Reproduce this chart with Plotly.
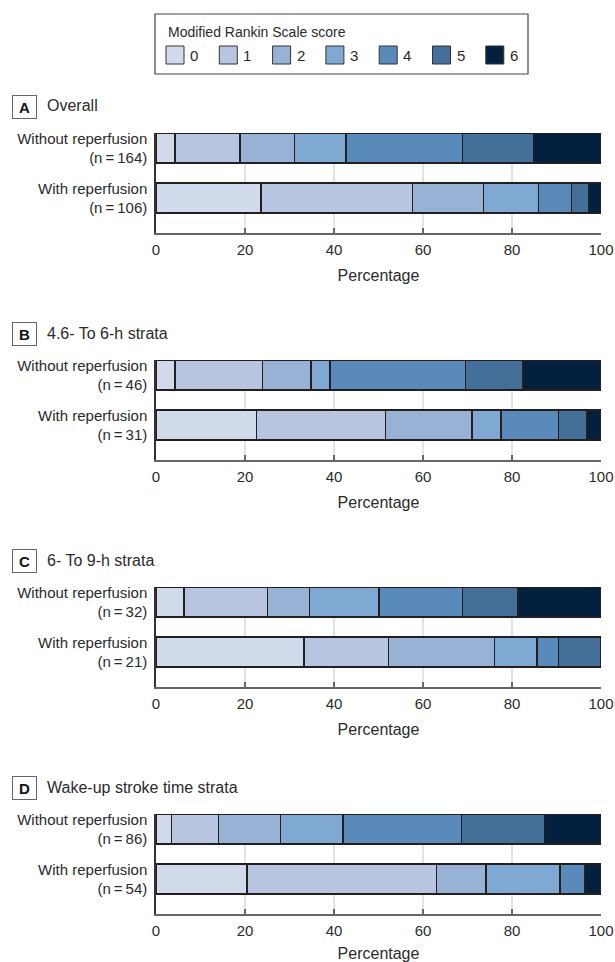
import plotly.graph_objects as go

# ---------------- data ----------------
scores = ["0", "1", "2", "3", "4", "5", "6"]
colors = ["#d1daea", "#b7c5e0", "#98b2d6", "#7fa8d3", "#5a8aba", "#436f99", "#03203f"]

panel_letters = ["A", "B", "C", "D"]
panel_titles = ["Overall", "4.6- To 6-h strata", "6- To 9-h strata", "Wake-up stroke time strata"]

without_labels = ["Without reperfusion<br>(n\u2009=\u2009164)", "Without reperfusion<br>(n\u2009=\u200946)",
                  "Without reperfusion<br>(n\u2009=\u200932)", "Without reperfusion<br>(n\u2009=\u200986)"]
with_labels = ["With reperfusion<br>(n\u2009=\u2009106)", "With reperfusion<br>(n\u2009=\u200931)",
               "With reperfusion<br>(n\u2009=\u200921)", "With reperfusion<br>(n\u2009=\u200954)"]

# percentages per mRS score 0..6
overall_without = [4.3, 14.6, 12.2, 11.6, 26.2, 15.9, 15.2]
overall_with = [23.6, 34.0, 16.0, 12.3, 7.5, 3.8, 2.8]
s46_without = [4.3, 19.6, 10.9, 4.3, 30.4, 13.0, 17.5]
s46_with = [22.6, 29.0, 19.4, 6.5, 12.9, 6.5, 3.1]
s69_without = [6.3, 18.8, 9.4, 15.6, 18.8, 12.5, 18.6]
s69_with = [33.3, 19.0, 23.8, 9.5, 4.8, 9.6, 0.0]
wake_without = [3.5, 10.5, 14.0, 14.0, 26.7, 18.6, 12.7]
wake_with = [20.4, 42.6, 11.1, 16.7, 5.6, 0.0, 3.6]

panels_without = [overall_without, s46_without, s69_without, wake_without]
panels_with = [overall_with, s46_with, s69_with, wake_with]

x_ticks = [0, 20, 40, 60, 80, 100]

# ---------------- figure ----------------
W, H = 615, 962
FONT = "Liberation Sans, Arial, sans-serif"
TXT = "#2b2b2b"

def px_x(p):
    return p / W

def px_y(p):
    return 1 - p / H

fig = go.Figure()
layout = {}
annotations = []
shapes = []

PANEL_STEP = 227
for i in range(4):
    o = PANEL_STEP * i
    ax = "" if i == 0 else str(i + 1)
    cats = [without_labels[i], with_labels[i]]
    for k, sc in enumerate(scores):
        fig.add_trace(go.Bar(
            y=cats,
            x=[panels_without[i][k], panels_with[i][k]],
            orientation="h",
            name=sc,
            marker=dict(color=colors[k], line=dict(color="#231f20", width=1.5)),
            width=0.6,
            showlegend=False,
            xaxis="x" + ax,
            yaxis="y" + ax,
            hovertemplate="%{y}<br>mRS " + sc + ": %{x:.1f}%<extra></extra>",
        ))
    layout["xaxis" + ax] = dict(
        domain=[px_x(156), px_x(601)],
        anchor="y" + ax,
        range=[0, 100],
        tickvals=x_ticks,
        ticks="inside",
        ticklen=5,
        tickwidth=1.5,
        tickcolor="#666",
        showline=True,
        linecolor="#666",
        linewidth=1.5,
        showgrid=True,
        gridcolor="#e3e3e3",
        gridwidth=1.5,
        zeroline=False,
        automargin=False,
        tickfont=dict(family=FONT, size=15, color=TXT),
        ticklabelstandoff=2,
        title=dict(text="Percentage", font=dict(family=FONT, size=16, color=TXT), standoff=13),
        fixedrange=True,
    )
    layout["yaxis" + ax] = dict(
        domain=[px_y(233 + o), px_y(133 + o)],
        anchor="x" + ax,
        type="category",
        categoryorder="array",
        categoryarray=cats,
        range=[1.7, -0.3],
        showline=True,
        linecolor="#333",
        linewidth=1.5,
        ticks="",
        showgrid=False,
        automargin=False,
        tickfont=dict(family=FONT, size=15, color=TXT),
        ticklabelstandoff=4,
        fixedrange=True,
    )
    # panel letter box and title
    annotations.append(dict(
        x=px_x(24), y=px_y(106.5 + o), xref="paper", yref="paper",
        text="<b>" + panel_letters[i] + "</b>", showarrow=False,
        xanchor="center", yanchor="middle",
        width=23, height=22, borderpad=0,
        bordercolor="#666", borderwidth=1,
        font=dict(family=FONT, size=15, color="#111"),
    ))
    annotations.append(dict(
        x=px_x(45), y=px_y(106 + o), xref="paper", yref="paper",
        text=panel_titles[i], showarrow=False,
        xanchor="left", yanchor="middle",
        font=dict(family=FONT, size=16, color=TXT),
    ))

# manual legend
shapes.append(dict(type="rect", xref="paper", yref="paper",
                   x0=px_x(155), x1=px_x(528), y0=px_y(74), y1=px_y(14),
                   line=dict(color="#444", width=1.2), fillcolor="white"))
annotations.append(dict(
    x=px_x(166), y=px_y(32), xref="paper", yref="paper",
    text="Modified Rankin Scale score", showarrow=False,
    xanchor="left", yanchor="middle",
    font=dict(family=FONT, size=14, color=TXT),
))
for k, sc in enumerate(scores):
    x0 = 166 + 53.3 * k
    shapes.append(dict(type="rect", xref="paper", yref="paper",
                       x0=px_x(x0), x1=px_x(x0 + 18), y0=px_y(64), y1=px_y(46),
                       line=dict(color="#333", width=1), fillcolor=colors[k]))
    annotations.append(dict(
        x=px_x(x0 + 22), y=px_y(55), xref="paper", yref="paper",
        text=sc, showarrow=False, xanchor="left", yanchor="middle",
        font=dict(family=FONT, size=15, color=TXT),
    ))

fig.update_layout(
    **layout,
    barmode="stack",
    width=W, height=H, autosize=False,
    margin=dict(l=0, r=0, t=0, b=0, autoexpand=False),
    paper_bgcolor="white",
    plot_bgcolor="white",
    annotations=annotations,
    shapes=shapes,
    font=dict(family=FONT, color=TXT),
)

fig.write_html(
    "out.html",
    config={"displayModeBar": False},
    post_script="document.body.style.margin='0';document.body.style.overflow='hidden';",
)
